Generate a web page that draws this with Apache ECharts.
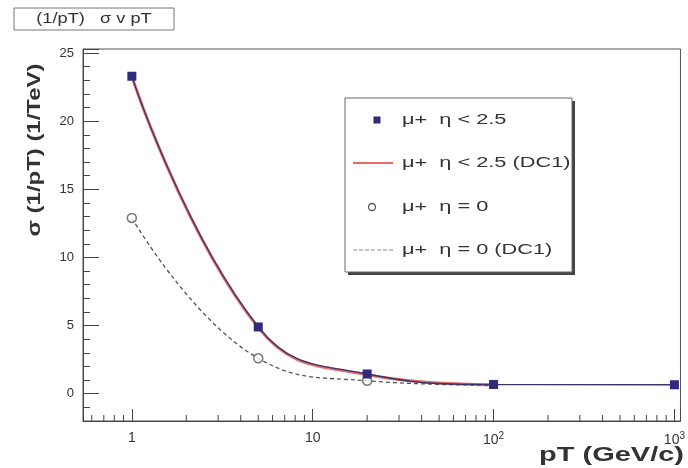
<!DOCTYPE html>
<html>
<head>
<meta charset="utf-8">
<style>
  html, body { margin: 0; padding: 0; background: #fff; }
  #chart { width: 688px; height: 468px; }
</style>
<script src="https://cdn.jsdelivr.net/npm/echarts@6/dist/echarts.min.js"></script>
</head>
<body>
<div id="chart"></div>
<script>
// pT points (GeV/c) and cross sections sigma(1/pT) in 1/TeV
const ptAll = [1, 5, 20, 100, 1000];
const sigmaEtaLt25 = [23.3, 4.9, 1.45, 0.68, 0.66];
const ptDC1Wide = [1, 5, 20, 100];
const sigmaEtaLt25DC1 = [23.3, 4.85, 1.4, 0.65];
const ptEta0 = [1, 5, 20];
const sigmaEta0 = [12.9, 2.6, 0.95];
const ptDC1Central = [1, 5, 20, 100];
const sigmaEta0DC1 = [12.9, 2.6, 0.95, 0.62];

// axis ranges and ticks
const X_MIN = 0.537, X_MAX = 1080;
const Y_MIN = -2, Y_MAX = 25.3;
const yTickLabels = [0, 5, 10, 15, 20, 25];
const xTickLabels = { 1: '1', 10: '10', 100: '10{sup|2}', 1000: '10{sup|3}' };
const xMinorTicks = [0.6, 0.7, 0.8, 0.9, 2, 3, 4, 5, 6, 7, 8, 9,
  20, 30, 40, 50, 60, 70, 80, 90, 200, 300, 400, 500, 600, 700, 800, 900];

const names = ['\u03bc+  \u03b7 < 2.5', '\u03bc+  \u03b7 < 2.5 (DC1)', '\u03bc+  \u03b7 = 0', '\u03bc+  \u03b7 = 0 (DC1)'];
const titleText = '(1/pT)   \u03c3 v pT';
const xTitle = 'pT (GeV/c)';
const yTitle = '\u03c3 (1/pT) (1/TeV)';

const NAVY = '#2f2a7c', RED = '#e03838', GREY = '#555';
const FONT = 'Liberation Sans, Arial, sans-serif';

const zip = (xs, ys) => xs.map((x, i) => [x, ys[i]]);

// legend drawn as a framed box with a solid drop shadow
function legendGraphic(x0, y0, w, h) {
  const rowY = [22, 65, 109, 152];
  const textStyle = { fontFamily: FONT, fontSize: 15, fill: '#333', verticalAlign: 'middle' };
  const els = [
    { type: 'rect', shape: { x: 3, y: 3, width: w, height: h }, style: { fill: '#444' } },
    { type: 'rect', shape: { x: 0, y: 0, width: w, height: h }, style: { fill: '#fff', stroke: '#666', lineWidth: 1 } },
    { type: 'rect', shape: { x: 28.5, y: rowY[0] - 3.5, width: 7, height: 7 }, style: { fill: NAVY } },
    { type: 'line', shape: { x1: 8, y1: rowY[1], x2: 48, y2: rowY[1] }, style: { stroke: RED, lineWidth: 1.5 } },
    { type: 'circle', shape: { cx: 27, cy: rowY[2], r: 3.5 }, style: { fill: '#fff', stroke: GREY, lineWidth: 1.3 } },
    { type: 'line', shape: { x1: 8, y1: rowY[3], x2: 48, y2: rowY[3] }, style: { stroke: '#888', lineWidth: 1.2, lineDash: [4, 2] } }
  ];
  names.forEach((n, i) => {
    els.push({ type: 'text', x: 57, y: rowY[i], scaleX: 1.45, style: Object.assign({ text: n }, textStyle) });
  });
  return { type: 'group', x: x0, y: y0, z: 10, children: els };
}

const chart = echarts.init(document.getElementById('chart'), null, { renderer: 'canvas' });

chart.setOption({
  animation: false,
  backgroundColor: '#fff',
  grid: { left: 83, right: 5, top: 49, bottom: 47, show: true, borderColor: '#555', borderWidth: 1 },
  xAxis: {
    type: 'log', logBase: 10, min: X_MIN, max: X_MAX,
    axisLine: { onZero: false, lineStyle: { color: '#444' } },
    axisTick: { inside: true, length: 12, lineStyle: { color: '#444' } },
    splitLine: { show: false },
    axisLabel: {
      margin: 10, color: '#333', fontFamily: FONT, fontSize: 14,
      showMinLabel: false, showMaxLabel: true,
      formatter: v => {
        const k = Math.round(v);
        return (Math.abs(v - k) < 1e-6 && xTickLabels[k]) ? xTickLabels[k] : '';
      },
      rich: { sup: { fontSize: 10, verticalAlign: 'top', padding: [0, 0, 8, 0], color: '#333' } }
    }
  },
  yAxis: {
    type: 'value', min: Y_MIN, max: Y_MAX, splitNumber: 5,
    axisLine: { onZero: false, lineStyle: { color: '#444' } },
    axisTick: { inside: true, length: 16, lineStyle: { color: '#444' } },
    minorTick: { show: true, splitNumber: 5, length: 7, lineStyle: { color: '#444' } },
    splitLine: { show: false },
    axisLabel: {
      margin: 9, color: '#333', fontFamily: FONT, fontSize: 13,
      formatter: v => yTickLabels.indexOf(v) >= 0 ? String(v) : ''
    }
  },
  graphic: [
    // title box
    {
      type: 'group', x: 14, y: 8, children: [
        { type: 'rect', shape: { x: 0, y: 0, width: 160, height: 22 }, style: { fill: '#fff', stroke: '#777', lineWidth: 1 } },
        { type: 'text', x: 80, y: 11.5, scaleX: 1.3, style: { text: titleText, fontFamily: FONT, fontSize: 14, fill: '#333', align: 'center', verticalAlign: 'middle' } }
      ]
    },
    legendGraphic(345, 98, 227, 174),
    // axis titles
    {
      type: 'text', x: 35, y: 150, rotation: Math.PI / 2, scaleX: 1.33,
      style: { text: yTitle, fontFamily: FONT, fontSize: 18, fontWeight: 'bold', fill: '#333', align: 'center', verticalAlign: 'middle' }
    },
    {
      type: 'text', x: 684, y: 455, scaleX: 1.45,
      style: { text: xTitle, fontFamily: FONT, fontSize: 20, fontWeight: 'bold', fill: '#333', align: 'right', verticalAlign: 'middle' }
    }
  ],
  series: [
    {
      name: names[1], type: 'line', data: zip(ptDC1Wide, sigmaEtaLt25DC1),
      smooth: 0.45, symbol: 'none', color: RED,
      lineStyle: { color: RED, width: 3, opacity: 0.7 }, z: 2
    },
    {
      name: names[0], type: 'line', data: zip(ptAll, sigmaEtaLt25),
      smooth: 0.45, symbol: 'rect', symbolSize: 9, color: NAVY,
      itemStyle: { color: NAVY },
      lineStyle: { color: '#3a3566', width: 1.3 }, z: 4
    },
    {
      name: names[3], type: 'line', data: zip(ptDC1Central, sigmaEta0DC1),
      smooth: 0.45, symbol: 'none', color: GREY,
      lineStyle: { color: GREY, width: 1.3, type: [4, 3] }, z: 2
    },
    {
      name: names[2], type: 'scatter', data: zip(ptEta0, sigmaEta0),
      symbol: 'circle', symbolSize: 9, color: GREY,
      itemStyle: { color: '#fff', borderColor: GREY, borderWidth: 1.5 }, z: 3
    },
    {
      name: 'minor ticks', type: 'custom', silent: true, clip: false,
      data: xMinorTicks.map(v => [v, Y_MIN]),
      renderItem: (params, api) => {
        const p = api.coord([api.value(0), api.value(1)]);
        return { type: 'line', shape: { x1: p[0], y1: p[1], x2: p[0], y2: p[1] - 6 }, style: { stroke: '#444', lineWidth: 1 } };
      },
      z: 1
    }
  ]
});
</script>
</body>
</html>
